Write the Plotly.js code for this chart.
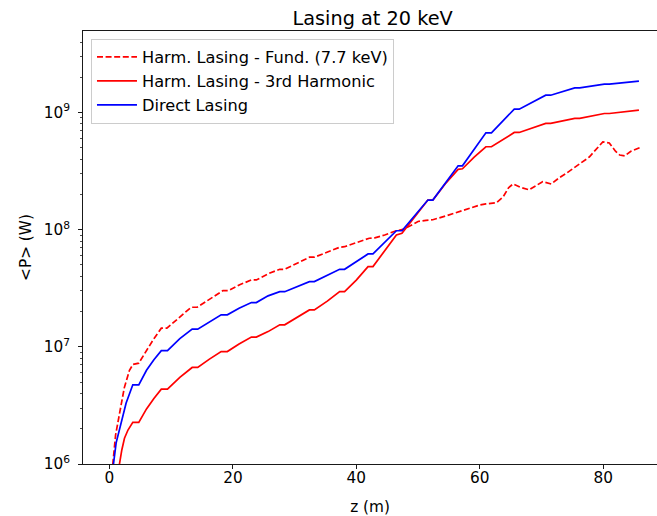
<!DOCTYPE html>
<html>
<head>
<meta charset="utf-8">
<script src="https://cdn.plot.ly/plotly-3.0.1.min.js"></script>
<style>html,body{margin:0;padding:0;background:#fff;overflow:hidden}#chart{width:657px;height:516px}</style>
</head>
<body>
<div id="chart"></div>
<script>
// Harmonic lasing - fundamental (7.7 keV), dashed red; z in m, values as log10(P/W)
var zFund = [0.3,0.54,1.0,1.62,2.4,3.24,3.8,4.75,6.0,7.2,8.4,9.3,11.3,13.24,14.2,16.3,18.4,19.3,21.1,23.0,23.8,25.9,27.6,28.4,30.4,32.4,33.2,35.3,37.3,38.1,40.0,42.1,43.0,44.6,46.46,47.4,48.6,50.0,51.3,52.4,54.5,56.7,58.3,59.97,61.0,62.7,63.8,64.7,65.4,66.7,68.0,70.2,71.6,72.8,74.0,75.6,77.75,79.95,81.0,82.0,82.7,83.5,84.5,85.9];
var logFund = [5.7,6.0,6.25,6.435,6.65,6.8,6.85,6.861,6.97,7.07,7.159,7.159,7.25,7.338,7.338,7.41,7.48,7.48,7.53,7.571,7.571,7.628,7.662,7.662,7.715,7.765,7.765,7.81,7.85,7.855,7.89,7.927,7.93,7.955,7.991,8.0,8.03,8.07,8.08,8.085,8.117,8.153,8.182,8.21,8.22,8.23,8.28,8.36,8.39,8.36,8.34,8.41,8.39,8.44,8.48,8.537,8.62,8.75,8.74,8.67,8.637,8.63,8.67,8.70];

// Harmonic lasing - 3rd harmonic, solid red
var zHarm = [1.2,1.62,2.0,2.43,3.0,3.78,4.75,6.0,7.2,8.4,9.4,11.4,13.4,14.3,16.2,18.1,19.1,21.0,23.0,23.8,25.7,27.6,28.4,30.4,32.4,33.2,35.3,37.3,38.1,40.0,41.9,42.7,44.6,46.5,47.4,49.5,51.6,52.4,54.4,56.5,57.2,59.1,61.0,61.9,63.8,65.6,66.4,68.5,70.7,71.5,73.5,75.4,76.2,78.2,80.2,81.0,83.4,85.8];
var logHarm = [5.75,6.0,6.12,6.22,6.29,6.355,6.355,6.47,6.56,6.639,6.639,6.74,6.824,6.824,6.895,6.96,6.96,7.025,7.083,7.083,7.13,7.188,7.188,7.25,7.315,7.315,7.39,7.471,7.471,7.57,7.685,7.685,7.82,7.955,7.97,8.11,8.253,8.253,8.39,8.515,8.52,8.62,8.708,8.708,8.77,8.83,8.83,8.87,8.907,8.907,8.93,8.95,8.95,8.97,8.992,8.992,9.005,9.02];

// Direct lasing, solid blue
var zDirect = [0.4,0.65,1.08,1.62,2.16,2.7,3.78,4.75,6.0,7.2,8.4,9.4,11.4,13.4,14.3,16.2,18.1,19.1,21.0,23.0,23.8,25.7,27.6,28.4,30.4,32.4,33.2,35.3,37.3,38.1,40.0,41.9,42.7,44.6,46.5,47.4,49.5,51.6,52.4,54.4,56.5,57.2,59.1,61.0,61.9,63.8,65.6,66.4,68.5,70.7,71.5,73.5,75.4,76.2,78.2,80.2,81.0,83.4,85.8];
var logDirect = [5.75,6.0,6.18,6.29,6.41,6.52,6.676,6.676,6.80,6.89,6.968,6.968,7.07,7.151,7.151,7.215,7.273,7.273,7.33,7.378,7.378,7.435,7.471,7.471,7.515,7.557,7.557,7.61,7.662,7.662,7.725,7.793,7.793,7.89,7.991,7.991,8.12,8.253,8.253,8.40,8.545,8.545,8.69,8.827,8.827,8.93,9.029,9.029,9.09,9.148,9.148,9.18,9.21,9.21,9.228,9.242,9.242,9.255,9.268];

var seriesNames = ["Harm. Lasing - Fund. (7.7 keV)", "Harm. Lasing - 3rd Harmonic", "Direct Lasing"];
var xTicks = [0,20,40,60,80];
var yDecades = [6,7,8,9];

function pw(arr){ return arr.map(function(v){ return Math.pow(10, v); }); }

var traces = [
  {x: zFund, y: pw(logFund), name: seriesNames[0], mode: 'lines', line: {color: '#ff0000', width: 1.7, dash: '6px,2.6px'}},
  {x: zHarm, y: pw(logHarm), name: seriesNames[1], mode: 'lines', line: {color: '#ff0000', width: 1.7}},
  {x: zDirect, y: pw(logDirect), name: seriesNames[2], mode: 'lines', line: {color: '#0000ff', width: 1.7}}
];

var minorVals = [];
for (var d = 5; d <= 9; d++) { for (var m = 2; m <= 9; m++) { minorVals.push(m * Math.pow(10, d)); } }

var font = 'DejaVu Sans, sans-serif';
var fs = 15.3;
var layout = {
  width: 657, height: 516,
  margin: {l: 83, r: 0, t: 31, b: 52, pad: 0},
  paper_bgcolor: '#fff', plot_bgcolor: '#fff',
  font: {family: font, size: fs, color: '#000'},
  showlegend: true,
  title: {text: 'Lasing at 20 keV', font: {family: font, size: 19.3, color: '#000'}, x: 0.5045, xref: 'paper', xanchor: 'center', y: 1 - 25/516, yref: 'container', yanchor: 'bottom'},
  xaxis: {
    range: [-4.29, 88.73], showgrid: false, zeroline: false,
    showline: true, linecolor: '#000', linewidth: 0.9, mirror: true,
    ticks: 'outside', ticklen: 4, tickwidth: 0.9, tickcolor: '#000',
    tickvals: xTicks, ticktext: xTicks.map(String),
    tickfont: {family: font, size: fs, color: '#000'},
    ticklabelstandoff: -4,
    title: {text: 'z (m)', font: {family: font, size: fs, color: '#000'}, standoff: 14}
  },
  yaxis: {
    type: 'log', range: [6, 9.696], showgrid: false, zeroline: false,
    showline: true, linecolor: '#000', linewidth: 0.9,
    ticks: 'outside', ticklen: 4, tickwidth: 0.9, tickcolor: '#000',
    tickvals: yDecades.map(function(d){ return Math.pow(10, d); }),
    ticktext: yDecades.map(function(d){ return '10<sup>' + d + '</sup>'; }),
    tickfont: {family: font, size: fs, color: '#000'},
    ticklabelstandoff: 5,
    minor: {tickvals: minorVals, ticks: 'outside', ticklen: 2.3, tickwidth: 0.7, tickcolor: '#000', showgrid: false},
    title: {text: '&lt;P&gt; (W)', font: {family: font, size: fs, color: '#000'}, standoff: 8}
  },
  legend: {
    x: 0.0139, y: 0.982, xanchor: 'left', yanchor: 'top',
    bgcolor: 'rgba(255,255,255,0.8)', bordercolor: '#cccccc', borderwidth: 1,
    font: {family: font, size: 16.2, color: '#000'},
    itemwidth: 40,
    tracegroupgap: 0
  }
};

Plotly.newPlot('chart', traces, layout, {displayModeBar: false, staticPlot: true});
</script>
</body>
</html>
